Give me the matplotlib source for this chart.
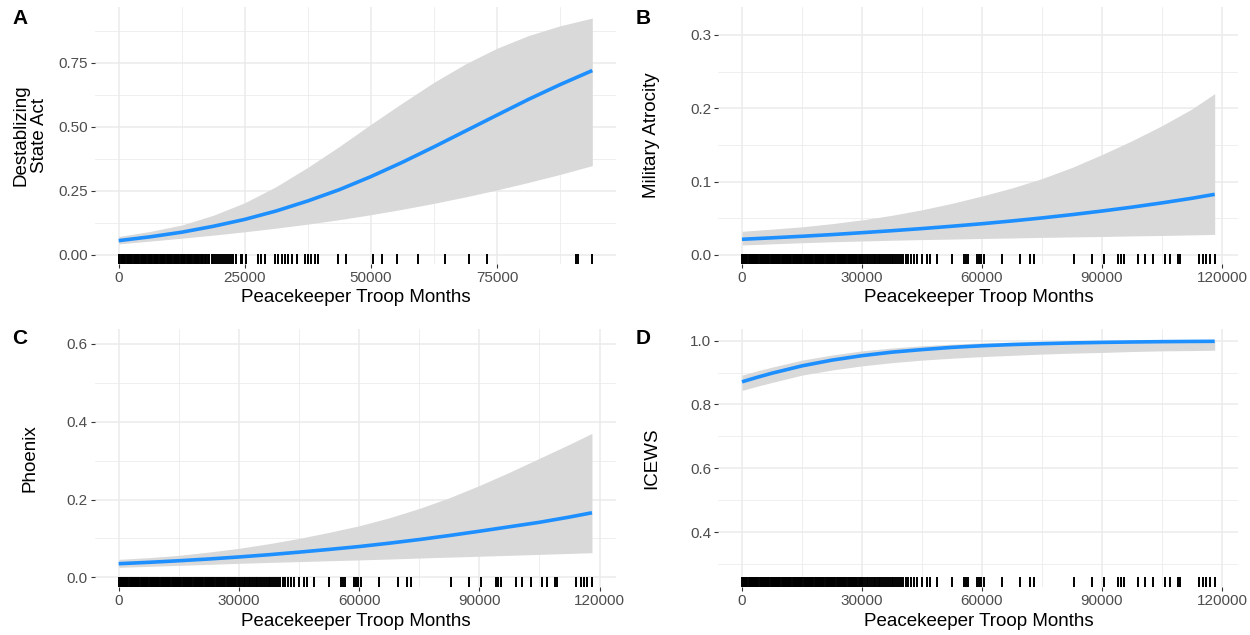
import matplotlib
matplotlib.use("Agg")
import matplotlib.pyplot as plt
from matplotlib.ticker import FixedLocator

plt.rcParams['font.family'] = ['Liberation Sans', 'DejaVu Sans']

# ---------------- data ----------------
x_label = "Peacekeeper Troop Months"

# Panel A: Destablizing State Act
a_x = [0, 6250, 12500, 18750, 25000, 31250, 37500, 43750, 50000, 56250, 62500, 68750, 75000, 81250, 87500, 93900]
a_fit = [0.056, 0.071, 0.089, 0.112, 0.139, 0.172, 0.211, 0.255, 0.306, 0.362, 0.422, 0.484, 0.546, 0.6075, 0.665, 0.720]
a_upr = [0.0722, 0.0921, 0.117, 0.155, 0.204, 0.2674, 0.3422, 0.4238, 0.510, 0.5935, 0.674, 0.746, 0.807, 0.8566, 0.8945, 0.925]
a_lwr = [0.0433, 0.0543, 0.0656, 0.0776, 0.0906, 0.1049, 0.1206, 0.1379, 0.1573, 0.1785, 0.2015, 0.2268, 0.2540, 0.2833, 0.3144, 0.3489]

# Panel B: Military Atrocity
b_x = [0, 7500, 15000, 22500, 30000, 37500, 45000, 52500, 60000, 67500, 75000, 82500, 90000, 97500, 105000, 112500, 118200]
b_fit = [0.0214, 0.0234, 0.0255, 0.0278, 0.0304, 0.0331, 0.0360, 0.0392, 0.0426, 0.0464, 0.0505, 0.0550, 0.0599, 0.0652, 0.0710, 0.0773, 0.0827]
b_upr = [0.0323, 0.0352, 0.0384, 0.0427, 0.0478, 0.0541, 0.0616, 0.0704, 0.0804, 0.0913, 0.1041, 0.1193, 0.1368, 0.1557, 0.1762, 0.199, 0.220]
b_lwr = [0.0136, 0.0152, 0.0167, 0.0180, 0.0191, 0.0201, 0.0210, 0.0217, 0.0225, 0.0232, 0.0240, 0.0246, 0.0252, 0.0260, 0.0266, 0.0274, 0.0281]

# Panel C: Phoenix
c_x = [0, 7500, 15000, 22500, 30000, 37500, 45000, 52500, 60000, 67500, 75000, 82500, 90000, 97500, 105000, 112500, 118100]
c_fit = [0.0351, 0.0386, 0.0427, 0.0472, 0.0524, 0.0582, 0.0648, 0.0718, 0.0792, 0.0878, 0.0972, 0.1075, 0.1185, 0.1300, 0.1415, 0.155, 0.166]
c_upr = [0.0463, 0.0506, 0.0566, 0.065, 0.0746, 0.0865, 0.100, 0.1157, 0.1325, 0.153, 0.177, 0.2045, 0.236, 0.270, 0.306, 0.342, 0.370]
c_lwr = [0.0257, 0.0283, 0.0308, 0.0334, 0.036, 0.0384, 0.0405, 0.0427, 0.0448, 0.0471, 0.0497, 0.052, 0.0543, 0.0566, 0.0591, 0.0615, 0.0634]

# Panel D: ICEWS
d_x = [0, 3750, 7500, 15000, 22500, 30000, 37500, 45000, 52500, 60000, 67500, 75000, 82500, 90000, 97500, 105000, 112500, 118200]
d_fit = [0.871, 0.885, 0.898, 0.921, 0.939, 0.953, 0.964, 0.972, 0.979, 0.984, 0.9878, 0.9906, 0.9929, 0.9946, 0.9959, 0.9969, 0.9976, 0.998]
d_upr = [0.892, 0.905, 0.917, 0.939, 0.955, 0.968, 0.977, 0.984, 0.989, 0.993, 0.995, 0.997, 0.998, 0.999, 0.9993, 0.9996, 0.9998, 1.0]
d_lwr = [0.844, 0.857, 0.869, 0.892, 0.908, 0.921, 0.931, 0.939, 0.945, 0.950, 0.954, 0.958, 0.961, 0.963, 0.966, 0.968, 0.969, 0.970]

# rug of observed troop months (panel A sample)
rug_a = [0, 150, 400, 600, 850, 1100, 1300, 1550, 1800, 2000, 2250, 2500, 2700, 2950,
         3200, 3400, 3650, 3900, 4100, 4350, 4600, 4800, 5050, 5300, 5500, 5750, 6000,
         6200, 6450, 6700, 6900, 7150, 7400, 7600, 7850, 8100, 8300, 8550, 8800, 9000,
         9250, 9500, 9700, 9950, 10200, 10400, 10650, 10900, 11100, 11350, 11600, 11800,
         12050, 12300, 12500, 12750, 13000, 13200, 13450, 13700, 13900, 14150, 14400,
         14600, 14850, 15100, 15300, 15550, 15800, 16000, 16250, 16500, 16800, 17100,
         17400, 17700, 18000, 18400, 18700, 19100, 19400, 19800, 20300, 20600, 21000,
         21500, 21900, 22300, 22700, 23200, 24300, 24500, 25300, 27600, 28300, 29000,
         31000, 31600, 32300, 32900, 33600, 34300, 35300, 36900, 37600, 38200, 38900,
         39500, 43500, 45000, 50500, 52300, 55200, 59400, 64700, 69500, 73000, 90700,
         91100, 93900]

# rug of observed troop months (panels B, C, D sample)
rug_bcd = [0, 250, 550, 800, 1100, 1350, 1650, 1900, 2200, 2450, 2750, 3000, 3300, 3550,
           3850, 4100, 4400, 4650, 4950, 5200, 5500, 5750, 6050, 6300, 6600, 6850, 7150,
           7400, 7700, 7950, 8250, 8500, 8800, 9050, 9350, 9600, 9900, 10150, 10450,
           10700, 11000, 11250, 11550, 11800, 12100, 12350, 12650, 12900, 13200, 13450,
           13750, 14000, 14300, 14550, 14850, 15100, 15400, 15650, 15950, 16200, 16500,
           16750, 17050, 17300, 17600, 17850, 18150, 18400, 18700, 18950, 19250, 19500,
           19800, 20050, 20350, 20600, 20900, 21150, 21450, 21700, 22000, 22250, 22550,
           22800, 23100, 23350, 23650, 23900, 24200, 24450, 24750, 25000, 25300, 25550,
           25850, 26100, 26400, 26650, 26950, 27200, 27500, 27750, 28050, 28300, 28600,
           28850, 29150, 29400, 29700, 30000, 30300, 30700, 31200, 31600, 32000, 32500,
           32900, 33300, 33800, 34200, 34600, 35100, 35500, 36000, 36400, 36900, 37400,
           37800, 38300, 38800, 39300, 39800, 40300, 40900, 41500, 42200, 42900, 43800,
           45000, 46300, 47100, 48800, 52400, 55400, 56000, 56600, 58800, 59300, 59800,
           60400, 65000, 69600, 71900, 72900, 83000, 87400, 90500, 94100, 94700, 95400,
           99100, 100700, 102800, 105700, 107000, 109000, 109500, 114200, 115300, 116100,
           116900, 118200]

panels = [
    dict(tag="A", ylabel="Destablizing\nState Act", x=a_x, fit=a_fit, upr=a_upr, lwr=a_lwr, rug=rug_a,
         xlim=(-4700, 98600), ylim=(-0.0332, 0.970),
         xmaj=[0, 25000, 50000, 75000], xmin=[12500, 37500, 62500, 87500],
         xlab=["0", "25000", "50000", "75000"],
         ymaj=[0, 0.25, 0.5, 0.75], ymin=[0.125, 0.375, 0.625, 0.875],
         ylab=["0.00", "0.25", "0.50", "0.75"]),
    dict(tag="B", ylabel="Military Atrocity", x=b_x, fit=b_fit, upr=b_upr, lwr=b_lwr, rug=rug_bcd,
         xlim=(-5900, 124100), ylim=(-0.0116, 0.3387),
         xmaj=[0, 30000, 60000, 90000, 120000], xmin=[15000, 45000, 75000, 105000],
         xlab=["0", "30000", "60000", "90000", "120000"],
         ymaj=[0, 0.1, 0.2, 0.3], ymin=[0.05, 0.15, 0.25],
         ylab=["0.0", "0.1", "0.2", "0.3"]),
    dict(tag="C", ylabel="Phoenix", x=c_x, fit=c_fit, upr=c_upr, lwr=c_lwr, rug=rug_bcd,
         xlim=(-5900, 124100), ylim=(-0.024, 0.637),
         xmaj=[0, 30000, 60000, 90000, 120000], xmin=[15000, 45000, 75000, 105000],
         xlab=["0", "30000", "60000", "90000", "120000"],
         ymaj=[0, 0.2, 0.4, 0.6], ymin=[0.1, 0.3, 0.5],
         ylab=["0.0", "0.2", "0.4", "0.6"]),
    dict(tag="D", ylabel="ICEWS", x=d_x, fit=d_fit, upr=d_upr, lwr=d_lwr, rug=rug_bcd,
         xlim=(-5900, 124100), ylim=(0.2288, 1.035),
         xmaj=[0, 30000, 60000, 90000, 120000], xmin=[15000, 45000, 75000, 105000],
         xlab=["0", "30000", "60000", "90000", "120000"],
         ymaj=[0.4, 0.6, 0.8, 1.0], ymin=[0.3, 0.5, 0.7, 0.9],
         ylab=["0.4", "0.6", "0.8", "1.0"]),
]

# ---------------- layout (pixels of a 1250x635 figure) ----------------
W, H = 1250, 635
boxes = [(95, 616, 6.5, 263.5), (718.4, 1238.3, 6.5, 263.5),
         (95, 616, 329.5, 586.7), (718.4, 1238.3, 329.5, 586.7)]
ylab_x = [30, 652, 30, 652]
tag_pos = [(12, 18), (636, 18), (12, 338), (636, 338)]

fig = plt.figure(figsize=(W / 100, H / 100), dpi=100)
fig.patch.set_facecolor("white")

grid_col = "#EBEBEB"
for p, (l, r, t, b), ylx, (tx, ty) in zip(panels, boxes, ylab_x, tag_pos):
    ax = fig.add_axes([l / W, 1 - b / H, (r - l) / W, (b - t) / H])
    ax.set_facecolor("white")
    for s in ax.spines.values():
        s.set_visible(False)
    ax.set_xlim(*p["xlim"])
    ax.set_ylim(*p["ylim"])
    ax.xaxis.set_major_locator(FixedLocator(p["xmaj"]))
    ax.xaxis.set_minor_locator(FixedLocator(p["xmin"]))
    ax.yaxis.set_major_locator(FixedLocator(p["ymaj"]))
    ax.yaxis.set_minor_locator(FixedLocator(p["ymin"]))
    ax.set_xticklabels(p["xlab"])
    ax.set_yticklabels(p["ylab"])
    ax.set_axisbelow(True)
    ax.grid(which="major", color=grid_col, lw=1.1)
    ax.grid(which="minor", color=grid_col, lw=0.55)
    ax.tick_params(which="major", direction="out", length=2.75, width=0.8,
                   color="#333333", labelcolor="#4D4D4D", labelsize=11, pad=2.5)
    ax.tick_params(which="minor", length=0)

    ax.fill_between(p["x"], p["lwr"], p["upr"], color="#D9D9D9", lw=0, zorder=2)
    ax.plot(p["x"], p["fit"], color="#1E8FFF", lw=2.6, solid_capstyle="butt",
            solid_joinstyle="round", zorder=3)
    ax.vlines(p["rug"], 0, 0.036, transform=ax.get_xaxis_transform(),
              color="black", lw=1.4, zorder=4)

    fig.text((l + r) / 2 / W, 1 - (b + 34.5) / H, x_label, ha="center", va="center",
             fontsize=13.5, color="black")
    fig.text(ylx / W, 1 - (t + b) / 2 / H, p["ylabel"], rotation=90, ha="center",
             va="center", fontsize=13.5, color="black", multialignment="center",
             linespacing=1.15)
    fig.text(tx / W, 1 - ty / H, p["tag"], ha="left", va="center", fontsize=15,
             fontweight="bold", color="black")

fig.savefig("out.png", dpi=100, facecolor="white")
